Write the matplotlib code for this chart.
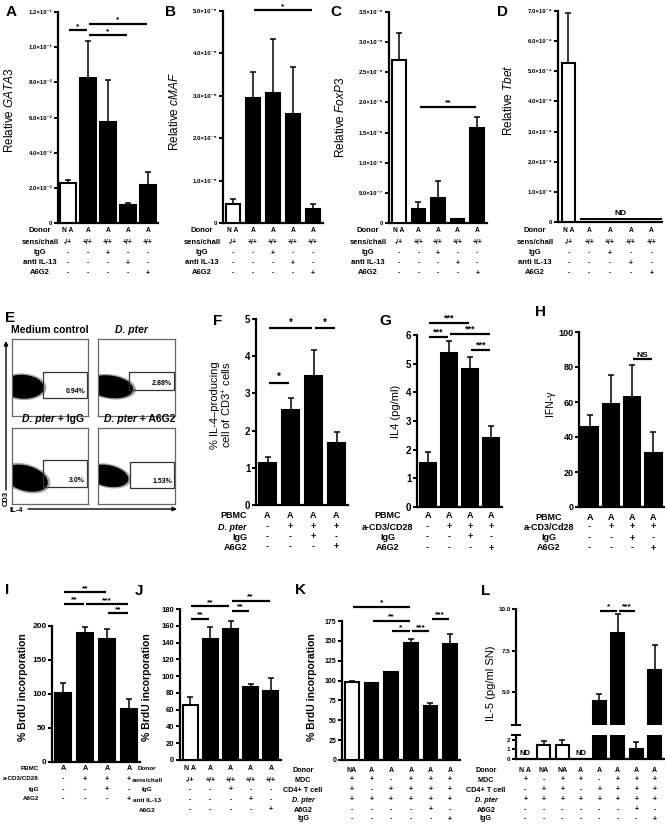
import numpy as np
import matplotlib
matplotlib.use('Agg')
import matplotlib.pyplot as plt
from matplotlib.patches import Ellipse, Rectangle
from matplotlib.transforms import blended_transform_factory

plt.rcParams['font.family'] = ['Liberation Sans', 'DejaVu Sans']
plt.rcParams['mathtext.fontset'] = 'custom'
plt.rcParams['mathtext.rm'] = 'Liberation Sans'
plt.rcParams['mathtext.it'] = 'Liberation Sans:italic'
plt.rcParams['mathtext.bf'] = 'Liberation Sans:bold'

# ---------------- data ----------------
# A-D: relative expression
gata3 = [0.0227, 0.0827, 0.0572, 0.0100, 0.0214]
gata3_sem = [0.0016, 0.0208, 0.0240, 0.0016, 0.0078]
cmaf = [0.44e-5, 2.95e-5, 3.06e-5, 2.57e-5, 0.34e-5]
cmaf_sem = [0.12e-5, 0.62e-5, 1.27e-5, 1.12e-5, 0.10e-5]
foxp3 = [2.70e-6, 0.23e-6, 0.41e-6, 0.06e-6, 1.57e-6]
foxp3_sem = [0.45e-6, 0.12e-6, 0.28e-6, 0.01e-6, 0.19e-6]
tbet = [5.29e-4, 0, 0, 0, 0]
tbet_sem = [1.65e-4, 0, 0, 0, 0]
tbet_nd = [1, 2, 3, 4]

gata3_ticks = [0, 0.02, 0.04, 0.06, 0.08, 0.10, 0.12]
gata3_labels = ['0', '2.0×10⁻²', '4.0×10⁻²', '6.0×10⁻²', '8.0×10⁻²', '1.0×10⁻¹', '1.2×10⁻¹']
cmaf_ticks = [0, 1e-5, 2e-5, 3e-5, 4e-5, 5e-5]
cmaf_labels = ['0', '1.0×10⁻⁵', '2.0×10⁻⁵', '3.0×10⁻⁵', '4.0×10⁻⁵', '5.0×10⁻⁵']
foxp3_ticks = [0, 0.5e-6, 1e-6, 1.5e-6, 2e-6, 2.5e-6, 3e-6, 3.5e-6]
foxp3_labels = ['0', '5.0×10⁻⁷', '1.0×10⁻⁶', '1.5×10⁻⁶', '2.0×10⁻⁶', '2.5×10⁻⁶', '3.0×10⁻⁶', '3.5×10⁻⁶']
tbet_ticks = [0, 1e-4, 2e-4, 3e-4, 4e-4, 5e-4, 6e-4, 7e-4]
tbet_labels = ['0', '1.0×10⁻⁴', '2.0×10⁻⁴', '3.0×10⁻⁴', '4.0×10⁻⁴', '5.0×10⁻⁴', '6.0×10⁻⁴', '7.0×10⁻⁴']

rows_ad = ['Donor', 'sens/chall', 'IgG', 'anti IL-13', 'A6G2']
cells_ad = [['N A', 'A', 'A', 'A', 'A'],
            ['-/+', '+/+', '+/+', '+/+', '+/+'],
            ['-', '-', '+', '-', '-'],
            ['-', '-', '-', '+', '-'],
            ['-', '-', '-', '-', '+']]

# E: flow cytometry
flow_title_it = ['', 'D. pter', 'D. pter', 'D. pter']
flow_title_rm = ['Medium control', '', ' + IgG', ' + A6G2']
flow_pct = ['0.94%', '2.88%', '3.0%', '1.53%']

# F-H
il4_cells = [1.12, 2.56, 3.46, 1.68]
il4_cells_sem = [0.16, 0.31, 0.72, 0.27]
il4 = [1.52, 5.36, 4.80, 2.42]
il4_sem = [0.40, 0.43, 0.44, 0.41]
ifng = [45.7, 59.0, 62.9, 31.0]
ifng_sem = [6.8, 16.3, 18.2, 12.0]

rows_f = ['PBMC', 'D. pter', 'IgG', 'A6G2']
rows_g = ['PBMC', 'a-CD3/CD28', 'IgG', 'A6G2']
rows_h = ['PBMC', 'a-CD3/Cd28', 'IgG', 'A6G2']
cells_fgh = [['A', 'A', 'A', 'A'],
             ['-', '+', '+', '+'],
             ['-', '-', '+', '-'],
             ['-', '-', '-', '+']]

# I-L
brdu_i = [101, 190, 181, 78]
brdu_i_sem = [15, 8, 15, 14]
brdu_j = [65, 144, 156.5, 86.8, 82.8]
brdu_j_sem = [10, 15, 9.5, 3.6, 15]
brdu_k = [98, 96.5, 110.5, 147, 67.5, 146.5]
brdu_k_sem = [1.2, 1.0, 0.5, 5.5, 4.0, 12.5]
il5 = [0, 1.43, 1.46, 0, 4.50, 8.55, 1.07, 6.35]
il5_sem = [0, 0.45, 0.52, 0, 0.42, 1.15, 0.70, 1.50]
il5_nd = [0, 3]

rows_k = ['Donor', 'MDC', 'CD4+ T cell', 'D. pter', 'A6G2', 'IgG']
cells_k = [['NA', 'A', 'A', 'A', 'A', 'A'],
           ['+', '+', '-', '+', '+', '+'],
           ['+', '-', '+', '+', '+', '+'],
           ['+', '+', '+', '+', '+', '+'],
           ['-', '-', '-', '-', '+', '-'],
           ['-', '-', '-', '-', '-', '+']]
cells_l = [['N A', 'NA', 'NA', 'A', 'A', 'A', 'A', 'A'],
           ['+', '-', '+', '+', '-', '+', '+', '+'],
           ['-', '+', '+', '-', '+', '+', '+', '+'],
           ['+', '+', '+', '+', '+', '+', '+', '+'],
           ['-', '-', '-', '-', '-', '-', '+', '-'],
           ['-', '-', '-', '-', '-', '-', '-', '+']]

# significance bars: (from, to, height, label)
sig_a = [(0, 1, 0.1096, '*'), (1, 4, 0.1134, '*'), (1, 3, 0.1067, '*')]
sig_b = [(1, 4, 5.02e-5, '*')]
sig_c = [(1, 4, 1.93e-6, '**')]
sig_f = [(0, 1, 3.29, '*'), (0, 2, 4.76, '*'), (2, 3, 4.76, '*')]
sig_g = [(0, 2, 6.43, '***'), (0, 1, 5.94, '***'), (1, 3, 6.02, '***'), (2, 3, 5.48, '***')]
sig_h = [(2, 3, 84.4, 'NS')]
sig_i = [(0, 2, 249.6, '**'), (0, 1, 233, '**'), (1, 3, 232, '***'), (2, 3, 218.7, '**')]
sig_j = [(0, 2, 183, '**'), (0, 1, 168, '**'), (2, 4, 190, '**'), (2, 3, 178, '**')]
sig_k = [(0, 3, 193, '*'), (1, 3, 175, '**'), (2, 3, 162, '*'), (3, 4, 162, '***'), (4, 5, 178, '***')]
sig_l = [(4, 5, 9.9, '*'), (5, 6, 9.9, '***')]

# ---------------- figure ----------------
W, H = 665.0, 826.0
fig = plt.figure(figsize=(W / 100, H / 100), dpi=100)
ov = fig.add_axes([0, 0, 1, 1], zorder=10)
ov.set_xlim(0, W)
ov.set_ylim(H, 0)
ov.axis('off')
ov.patch.set_visible(False)


def px_axes(l, t, r, b):
    return fig.add_axes([l / W, 1 - b / H, (r - l) / W, (b - t) / H])


def bar_panel(box, vals, sem, white, width, ylim, ticks, labels, tfs):
    ax = px_axes(*box)
    n = len(vals)
    ax.set_xlim(-0.5, n - 0.5)
    ax.set_ylim(*ylim)
    ax.patch.set_visible(False)
    for s in ['top', 'right']:
        ax.spines[s].set_visible(False)
    for s in ['left', 'bottom']:
        ax.spines[s].set_linewidth(1.6)
    ax.set_xticks([])
    ax.set_yticks(ticks)
    ax.set_yticklabels(labels, fontsize=tfs, fontweight='bold')
    ax.tick_params(axis='y', length=3, width=1.4, pad=1)
    draw_bars(ax, vals, sem, white, width)
    return ax


def draw_bars(ax, vals, sem, white, width):
    x = np.arange(len(vals))
    vals = np.asarray(vals, float)
    sem = np.asarray(sem, float)
    colors = ['white' if i in white else 'black' for i in x]
    ax.bar(x, vals, width, color=colors, edgecolor='k', linewidth=1.5, zorder=3)
    m = sem > 0
    ax.errorbar(x[m], vals[m], yerr=[np.zeros(m.sum()), sem[m]], fmt='none',
                ecolor='k', elinewidth=1.1, capsize=2.5, capthick=1.1, zorder=2)


def draw_sig(ax, sigs, fs=6, shrink=0.06):
    for i, j, y, lab in sigs:
        ax.plot([i + shrink, j - shrink], [y, y], color='k', lw=1.6,
                clip_on=False, solid_capstyle='butt')
        ax.annotate(lab, ((i + j) / 2, y), xytext=(0, 0.3), textcoords='offset points',
                    ha='center', va='bottom', fontsize=fs, fontweight='bold',
                    annotation_clip=False)


def draw_table(ax, rows, cells, ys, lab_x, lab_ha, lfs, cfs):
    tr = blended_transform_factory(ax.transData, ov.transData)
    for lab, row, y in zip(rows, cells, ys):
        st = 'italic' if lab == 'D. pter' else 'normal'
        ov.text(lab_x, y, lab, ha=lab_ha, va='center', fontsize=lfs,
                fontweight='bold', style=st)
        for i, c in enumerate(row):
            ax.text(i, y, c, transform=tr, ha='center', va='center',
                    fontsize=cfs, fontweight='bold')


def letter(x, y, s):
    ov.text(x, y, s, ha='center', va='center', fontsize=11, fontweight='bold')


def ylab(x, y, s, fs=8.5, weight='normal'):
    ov.text(x, y, s, ha='center', va='center', rotation=90, fontsize=fs,
            fontweight=weight, multialignment='center', linespacing=1.1)


# ---- A-D ----
ys_ad = [230, 243, 253, 263, 273]
axA = bar_panel((58, 12, 158, 223), gata3, gata3_sem, [0], 0.78, (0, 0.12),
                gata3_ticks, gata3_labels, 4.3)
draw_sig(axA, sig_a)
draw_table(axA, rows_ad, cells_ad, ys_ad, 40, 'center', 5.5, 4.8)
letter(11, 12, 'A')
ylab(10, 110, 'Relative $\\mathit{GATA3}$')

axB = bar_panel((223, 11, 323, 223), cmaf, cmaf_sem, [0], 0.7, (0, 5e-5),
                cmaf_ticks, cmaf_labels, 4.3)
draw_sig(axB, sig_b)
draw_table(axB, rows_ad, cells_ad, ys_ad, 202, 'center', 5.5, 4.8)
letter(170, 12, 'B')
ylab(175, 112, 'Relative $\\mathit{cMAF}$')

axC = bar_panel((389, 12, 487, 223), foxp3, foxp3_sem, [0], 0.7, (0, 3.5e-6),
                foxp3_ticks, foxp3_labels, 4.3)
draw_sig(axC, sig_c)
draw_table(axC, rows_ad, cells_ad, ys_ad, 368, 'center', 5.5, 4.8)
letter(336, 12, 'C')
ylab(341, 117, 'Relative $\\mathit{FoxP3}$')

axD = bar_panel((558, 11, 662, 222), tbet, tbet_sem, [0], 0.65, (0, 7e-4),
                tbet_ticks, tbet_labels, 4.3)
axD.plot([min(tbet_nd) - 0.44, max(tbet_nd) + 0.5], [0.09e-4, 0.09e-4], color='k',
         lw=1.4, clip_on=False, solid_capstyle='butt')
axD.text(np.mean(tbet_nd), 0.17e-4, 'ND', ha='center', va='bottom', fontsize=6,
         fontweight='bold')
draw_table(axD, rows_ad, cells_ad, ys_ad, 535, 'center', 5.5, 4.8)
letter(502, 12, 'D')
ylab(508, 100, 'Relative $\\mathit{Tbet}$')

# ---- E ----
letter(10, 318, 'E')
flow_boxes = [(12, 339, 88, 416), (98, 339, 175, 416), (12, 428, 88, 504), (98, 428, 175, 504)]
flow_cloud = [(0.14, 0.38, 0.56, 0.31, -3), (0.16, 0.38, 0.60, 0.29, -8),
              (0.18, 0.34, 0.60, 0.33, -16), (0.13, 0.37, 0.54, 0.28, -12)]
flow_gate = [(0.41, 0.23, 0.58, 0.34), (0.40, 0.34, 0.59, 0.23),
             (0.41, 0.22, 0.58, 0.36), (0.42, 0.21, 0.57, 0.34)]
title_pos = [(50, 333, 'center'), (131, 333, 'center'), (22, 422, 'left'), (104, 422, 'left')]
renderer = fig.canvas.get_renderer()
for k in range(4):
    ax = px_axes(*flow_boxes[k])
    ax.set_xlim(0, 1)
    ax.set_ylim(0, 1)
    ax.set_xticks([])
    ax.set_yticks([])
    for s in ax.spines.values():
        s.set_color('#666666')
        s.set_linewidth(0.9)
    cx, cy, w, h, ang = flow_cloud[k]
    for sc, al in [(1.12, 0.35), (1.0, 1.0)]:
        ax.add_patch(Ellipse((cx, cy), w * sc, h * sc, angle=ang, color='k',
                             alpha=al, lw=0))
    gx, gy, gw, gh = flow_gate[k]
    ax.add_patch(Rectangle((gx, gy), gw, gh, fill=False, ec='#333333', lw=0.9))
    ax.text(gx + gw - 0.03, gy + 0.04, flow_pct[k], ha='right', va='bottom',
            fontsize=5, fontweight='bold')
    tx, ty, tha = title_pos[k]
    if flow_title_it[k]:
        t1 = ov.text(tx, ty, flow_title_it[k], ha=tha, va='baseline', fontsize=7.5,
                     fontweight='bold', style='italic')
        if flow_title_rm[k]:
            bb = t1.get_window_extent(renderer=renderer)
            ybase = ov.transData.transform((tx, ty))[1]
            ov.annotate(flow_title_rm[k], xy=(bb.x1, ybase), xycoords='figure pixels',
                        ha='left', va='baseline', fontsize=7.5, fontweight='bold')
    else:
        ov.text(tx, ty, flow_title_rm[k], ha=tha, va='baseline', fontsize=7.5,
                fontweight='bold')
ov.annotate('', xy=(6, 341), xytext=(6, 490),
            arrowprops=dict(arrowstyle='-|>', lw=1, color='k', mutation_scale=6,
                            shrinkA=0, shrinkB=0))
ov.text(6, 498, 'CD3', rotation=90, ha='center', va='center', fontsize=5.5, fontweight='bold')
ov.text(16, 510, 'IL-4', ha='center', va='center', fontsize=5.5, fontweight='bold')
ov.annotate('', xy=(177, 509), xytext=(28, 509),
            arrowprops=dict(arrowstyle='-|>', lw=1, color='k', mutation_scale=6,
                            shrinkA=0, shrinkB=0))

# ---- F-H ----
axF = bar_panel((256, 319, 348, 505), il4_cells, il4_cells_sem, [], 0.78, (0, 5),
                range(6), [str(v) for v in range(6)], 7)
draw_sig(axF, sig_f, fs=7)
draw_table(axF, rows_f, cells_fgh, [516, 527, 537, 547], 247, 'right', 6.5, 6.5)
letter(218, 321, 'F')
ylab(222, 405, '% IL-4–producing\ncell of CD3$^{+}$ cells', fs=8)

axG = bar_panel((417, 335, 502, 507), il4, il4_sem, [], 0.75, (0, 6),
                range(7), [str(v) for v in range(7)], 7)
draw_sig(axG, sig_g, fs=6.5)
draw_table(axG, rows_g, cells_fgh, [516, 527, 537, 548], 388, 'center', 6.5, 6.5)
letter(385, 321, 'G')
ylab(396, 411, 'IL4 (pg/ml)', fs=8)

axH = bar_panel((579, 332, 664, 507), ifng, ifng_sem, [], 0.78, (0, 100),
                range(0, 101, 20), [str(v) for v in range(0, 101, 20)], 6.5)
draw_sig(axH, sig_h, fs=6)
draw_table(axH, rows_h, cells_fgh, [517, 527, 538, 548], 549, 'center', 6.5, 6.5)
letter(541, 312, 'H')
ylab(550, 403, 'IFN-γ', fs=7.5)

# ---- I-L ----
axI = bar_panel((52, 626, 140, 762), brdu_i, brdu_i_sem, [], 0.77, (0, 200),
                range(0, 201, 50), [str(v) for v in range(0, 201, 50)], 6)
draw_sig(axI, sig_i, fs=6)
draw_table(axI, rows_g, cells_fgh, [769, 779, 790, 799], 39, 'right', 4.5, 5.2)
letter(7, 590, 'I')
ylab(23, 687, '% BrdU incorporation', fs=7.5, weight='bold')

axJ = bar_panel((180, 609, 281, 760), brdu_j, brdu_j_sem, [0], 0.75, (0, 180),
                range(0, 181, 20), [str(v) for v in range(0, 181, 20)], 5.5)
draw_sig(axJ, sig_j, fs=6)
draw_table(axJ, rows_ad, cells_ad, [769, 780, 790, 800, 810], 147, 'center', 4.6, 5)
letter(139, 591, 'J')
ylab(147, 687, '% BrdU incorporation', fs=7.5, weight='bold')

axK = bar_panel((342, 621, 460, 760), brdu_k, brdu_k_sem, [0], 0.7, (0, 175),
                range(0, 176, 25), [str(v) for v in range(0, 176, 25)], 5)
draw_sig(axK, sig_k, fs=6)
draw_table(axK, rows_k, cells_k, [770, 780, 790, 800, 810, 819], 303, 'center', 5.2, 5)
letter(300, 590, 'K')
ylab(312, 687, '% BrdU incorporation', fs=7.5, weight='bold')

white_l = [0, 1, 2]
axLt = bar_panel((516, 609, 664, 725), il5, il5_sem, white_l, 0.7, (3.05, 10.0),
                 [5.0, 7.5, 10.0], ['5.0', '7.5', '10.0'], 4.5)
axLt.spines['bottom'].set_visible(False)
axLt.plot([-0.025, 0.025], [0, 0], color='k', lw=1.4, transform=axLt.transAxes,
          clip_on=False)
draw_sig(axLt, sig_l, fs=6)
axLb = bar_panel((516, 735, 664, 759), il5, il5_sem, white_l, 0.7, (0, 2.5),
                 [0, 1, 2], ['0', '1', '2'], 4.5)
axLb.plot([-0.025, 0.025], [1, 1], color='k', lw=1.4, transform=axLb.transAxes,
          clip_on=False)
for i in il5_nd:
    axLb.text(i, 0.2, 'ND', ha='center', va='bottom', fontsize=5.5, fontweight='bold')
draw_table(axLb, rows_k, cells_l, [770, 780, 790, 800, 810, 819], 486, 'center', 5.2, 5)
letter(486, 591, 'L')
ylab(491, 683, 'IL-5 (pg/ml SN)', fs=8)

fig.savefig('out.png', dpi=100)
